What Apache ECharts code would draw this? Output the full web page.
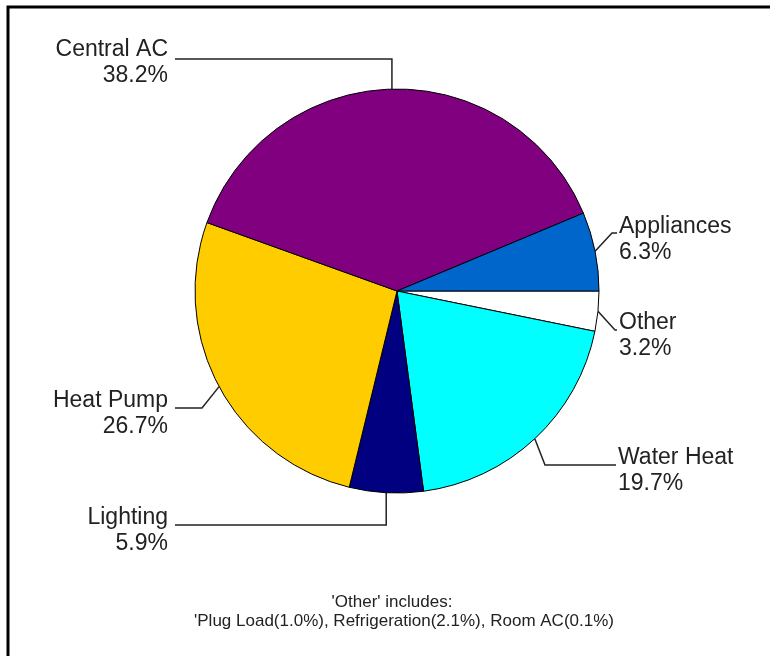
<!DOCTYPE html>
<html>
<head>
<meta charset="utf-8">
<script src="https://cdn.jsdelivr.net/npm/echarts@6/dist/echarts.min.js"></script>
<style>
html,body{margin:0;padding:0;background:#fff;}
#main{width:770px;height:656px;}
</style>
</head>
<body>
<div id="main"></div>
<script>
// ---- data ----
const categories = ['Other', 'Water Heat', 'Lighting', 'Heat Pump', 'Central AC', 'Appliances'];
const shares = [3.2, 19.7, 5.9, 26.7, 38.2, 6.3];
const sliceColors = ['#FFFFFF', '#00FFFF', '#000080', '#FFCC00', '#800080', '#0066CC'];
const noteTitle = "'Other' includes:";
const noteText = "'Plug Load(1.0%), Refrigeration(2.1%), Room AC(0.1%)";

// ---- label layout (annotation positions) ----
// anchor: label x/y, align; elbow: bend point (null x -> vertical from slice edge); endX: line end
const labelSpots = [
  {x: 619, y: 336, align: 'left',  elbowX: 615, elbowY: 330, endX: 617},
  {x: 618, y: 471, align: 'left',  elbowX: 545, elbowY: 465, endX: 616},
  {x: 168, y: 531, align: 'right', elbowX: null, elbowY: 525, endX: 175},
  {x: 168, y: 414, align: 'right', elbowX: 202, elbowY: 408, endX: 175},
  {x: 168, y: 63,  align: 'right', elbowX: null, elbowY: 59,  endX: 175},
  {x: 619, y: 240, align: 'left',  elbowX: 612, elbowY: 233, endX: 617}
];

const chart = echarts.init(document.getElementById('main'), null, {renderer: 'canvas'});

const pieData = categories.map((c, i) => ({
  name: c,
  value: shares[i],
  itemStyle: {color: sliceColors[i]}
}));

chart.setOption({
  animation: false,
  backgroundColor: '#ffffff',
  graphic: [
    {
      type: 'rect',
      shape: {x: 8, y: 7, width: 820, height: 700},
      style: {fill: 'none', stroke: '#000', lineWidth: 3},
      silent: true,
      z: 100
    },
    {
      type: 'text',
      x: 392, y: 602,
      style: {text: noteTitle, font: '17px "Liberation Sans", Arial, sans-serif', fill: '#222', textAlign: 'center', textVerticalAlign: 'middle'}
    },
    {
      type: 'text',
      x: 404, y: 621,
      style: {text: noteText, font: '17px "Liberation Sans", Arial, sans-serif', fill: '#222', textAlign: 'center', textVerticalAlign: 'middle'}
    }
  ],
  series: [{
    type: 'pie',
    center: [397, 291],
    radius: 202,
    startAngle: 0,
    clockwise: true,
    avoidLabelOverlap: false,
    emphasis: {disabled: true},
    itemStyle: {borderColor: '#000', borderWidth: 1},
    label: {
      show: true,
      position: 'outside',
      formatter: p => p.name + '\n' + p.value.toFixed(1) + '%',
      fontFamily: '"Liberation Sans", Arial, sans-serif',
      fontSize: 23,
      lineHeight: 26,
      color: '#222'
    },
    labelLine: {
      show: true,
      length: 10,
      length2: 10,
      lineStyle: {color: '#222', width: 1.5}
    },
    labelLayout: function (params) {
      const s = labelSpots[params.dataIndex];
      const edge = params.labelLinePoints ? params.labelLinePoints[0] : [0, 0];
      const ex = s.elbowX == null ? edge[0] : s.elbowX;
      return {
        x: s.x,
        y: s.y,
        align: s.align,
        verticalAlign: 'middle',
        labelLinePoints: [edge, [ex, s.elbowY], [s.endX, s.elbowY]]
      };
    },
    data: pieData
  }]
});
</script>
</body>
</html>
